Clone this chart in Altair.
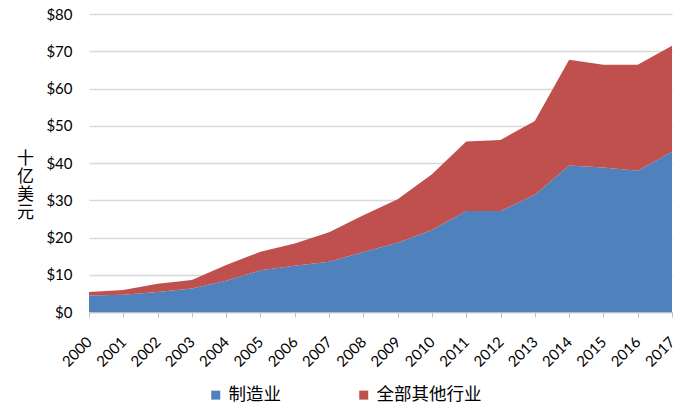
import altair as alt
import pandas as pd

years = list(range(2000, 2018))
manufacturing = [4.4, 4.6, 5.4, 6.3, 8.4, 11.2, 12.4, 13.5, 16.1, 18.6, 22.0, 27.1, 27.1, 31.5, 39.3, 38.8, 37.9, 43.0]
others = [1.0, 1.3, 2.2, 2.3, 4.2, 5.0, 6.0, 7.9, 9.9, 11.7, 15.0, 18.7, 19.1, 19.8, 28.4, 27.6, 28.5, 28.5]
series_names = ["制造业", "全部其他行业"]
colors = ["#4F81BD", "#C0504D"]
y_ticks = [0, 10, 20, 30, 40, 50, 60, 70, 80]

rows = []
for i, y in enumerate(years):
    rows.append({"year": y, "series": series_names[0], "value": manufacturing[i], "ord": 0})
    rows.append({"year": y, "series": series_names[1], "value": others[i], "ord": 1})
df = pd.DataFrame(rows)

FONT = "Lato, Noto Sans CJK SC, sans-serif"

chart = alt.Chart(df).mark_area(opacity=1).encode(
    x=alt.X("year:Q",
            scale=alt.Scale(domain=[2000, 2017], nice=False, zero=False),
            axis=alt.Axis(values=years, format="d", title=None, grid=False,
                          labelAngle=-45, labelAlign="right", labelBaseline="middle",
                          labelPadding=22, labelFontSize=15, labelColor="#000000",
                          domainColor="#bfbfbf", domainWidth=1.5,
                          tickColor="#bfbfbf", tickSize=5, tickWidth=1,
                          labelFont=FONT, labelOverlap=False)),
    y=alt.Y("value:Q", stack="zero",
            scale=alt.Scale(domain=[0, 80], nice=False),
            axis=alt.Axis(values=y_ticks, labelExpr="'$' + datum.value",
                          title=["十", "亿", "美", "元"], titleAngle=0,
                          titleX=-64, titleY=144, titleBaseline="middle", titleAlign="center",
                          titleFontSize=17, titleFontWeight="normal", titleLineHeight=18,
                          titleFont=FONT, titleColor="#000000",
                          labelFontSize=15, labelColor="#000000", labelFont=FONT,
                          labelPadding=17, domain=False, ticks=False,
                          gridColor="#d9d9d9", gridWidth=1.5)),
    color=alt.Color("series:N",
                    scale=alt.Scale(domain=series_names, range=colors),
                    legend=alt.Legend(orient="none", legendX=118, legendY=372,
                                      direction="horizontal", title=None,
                                      symbolType="square", symbolSize=81,
                                      symbolStrokeWidth=0, labelFontSize=17.5,
                                      labelFont=FONT, labelColor="#000000",
                                      labelOffset=4, columnPadding=74, padding=0)),
    order=alt.Order("ord:Q"),
).properties(
    width=583, height=298,
    autosize=alt.AutoSizeParams(type="none"),
    padding={"left": 81, "top": 6, "right": 2, "bottom": 96},
).configure_view(stroke=None)

chart.save("out.html", embed_options={"renderer": "svg", "actions": False})
